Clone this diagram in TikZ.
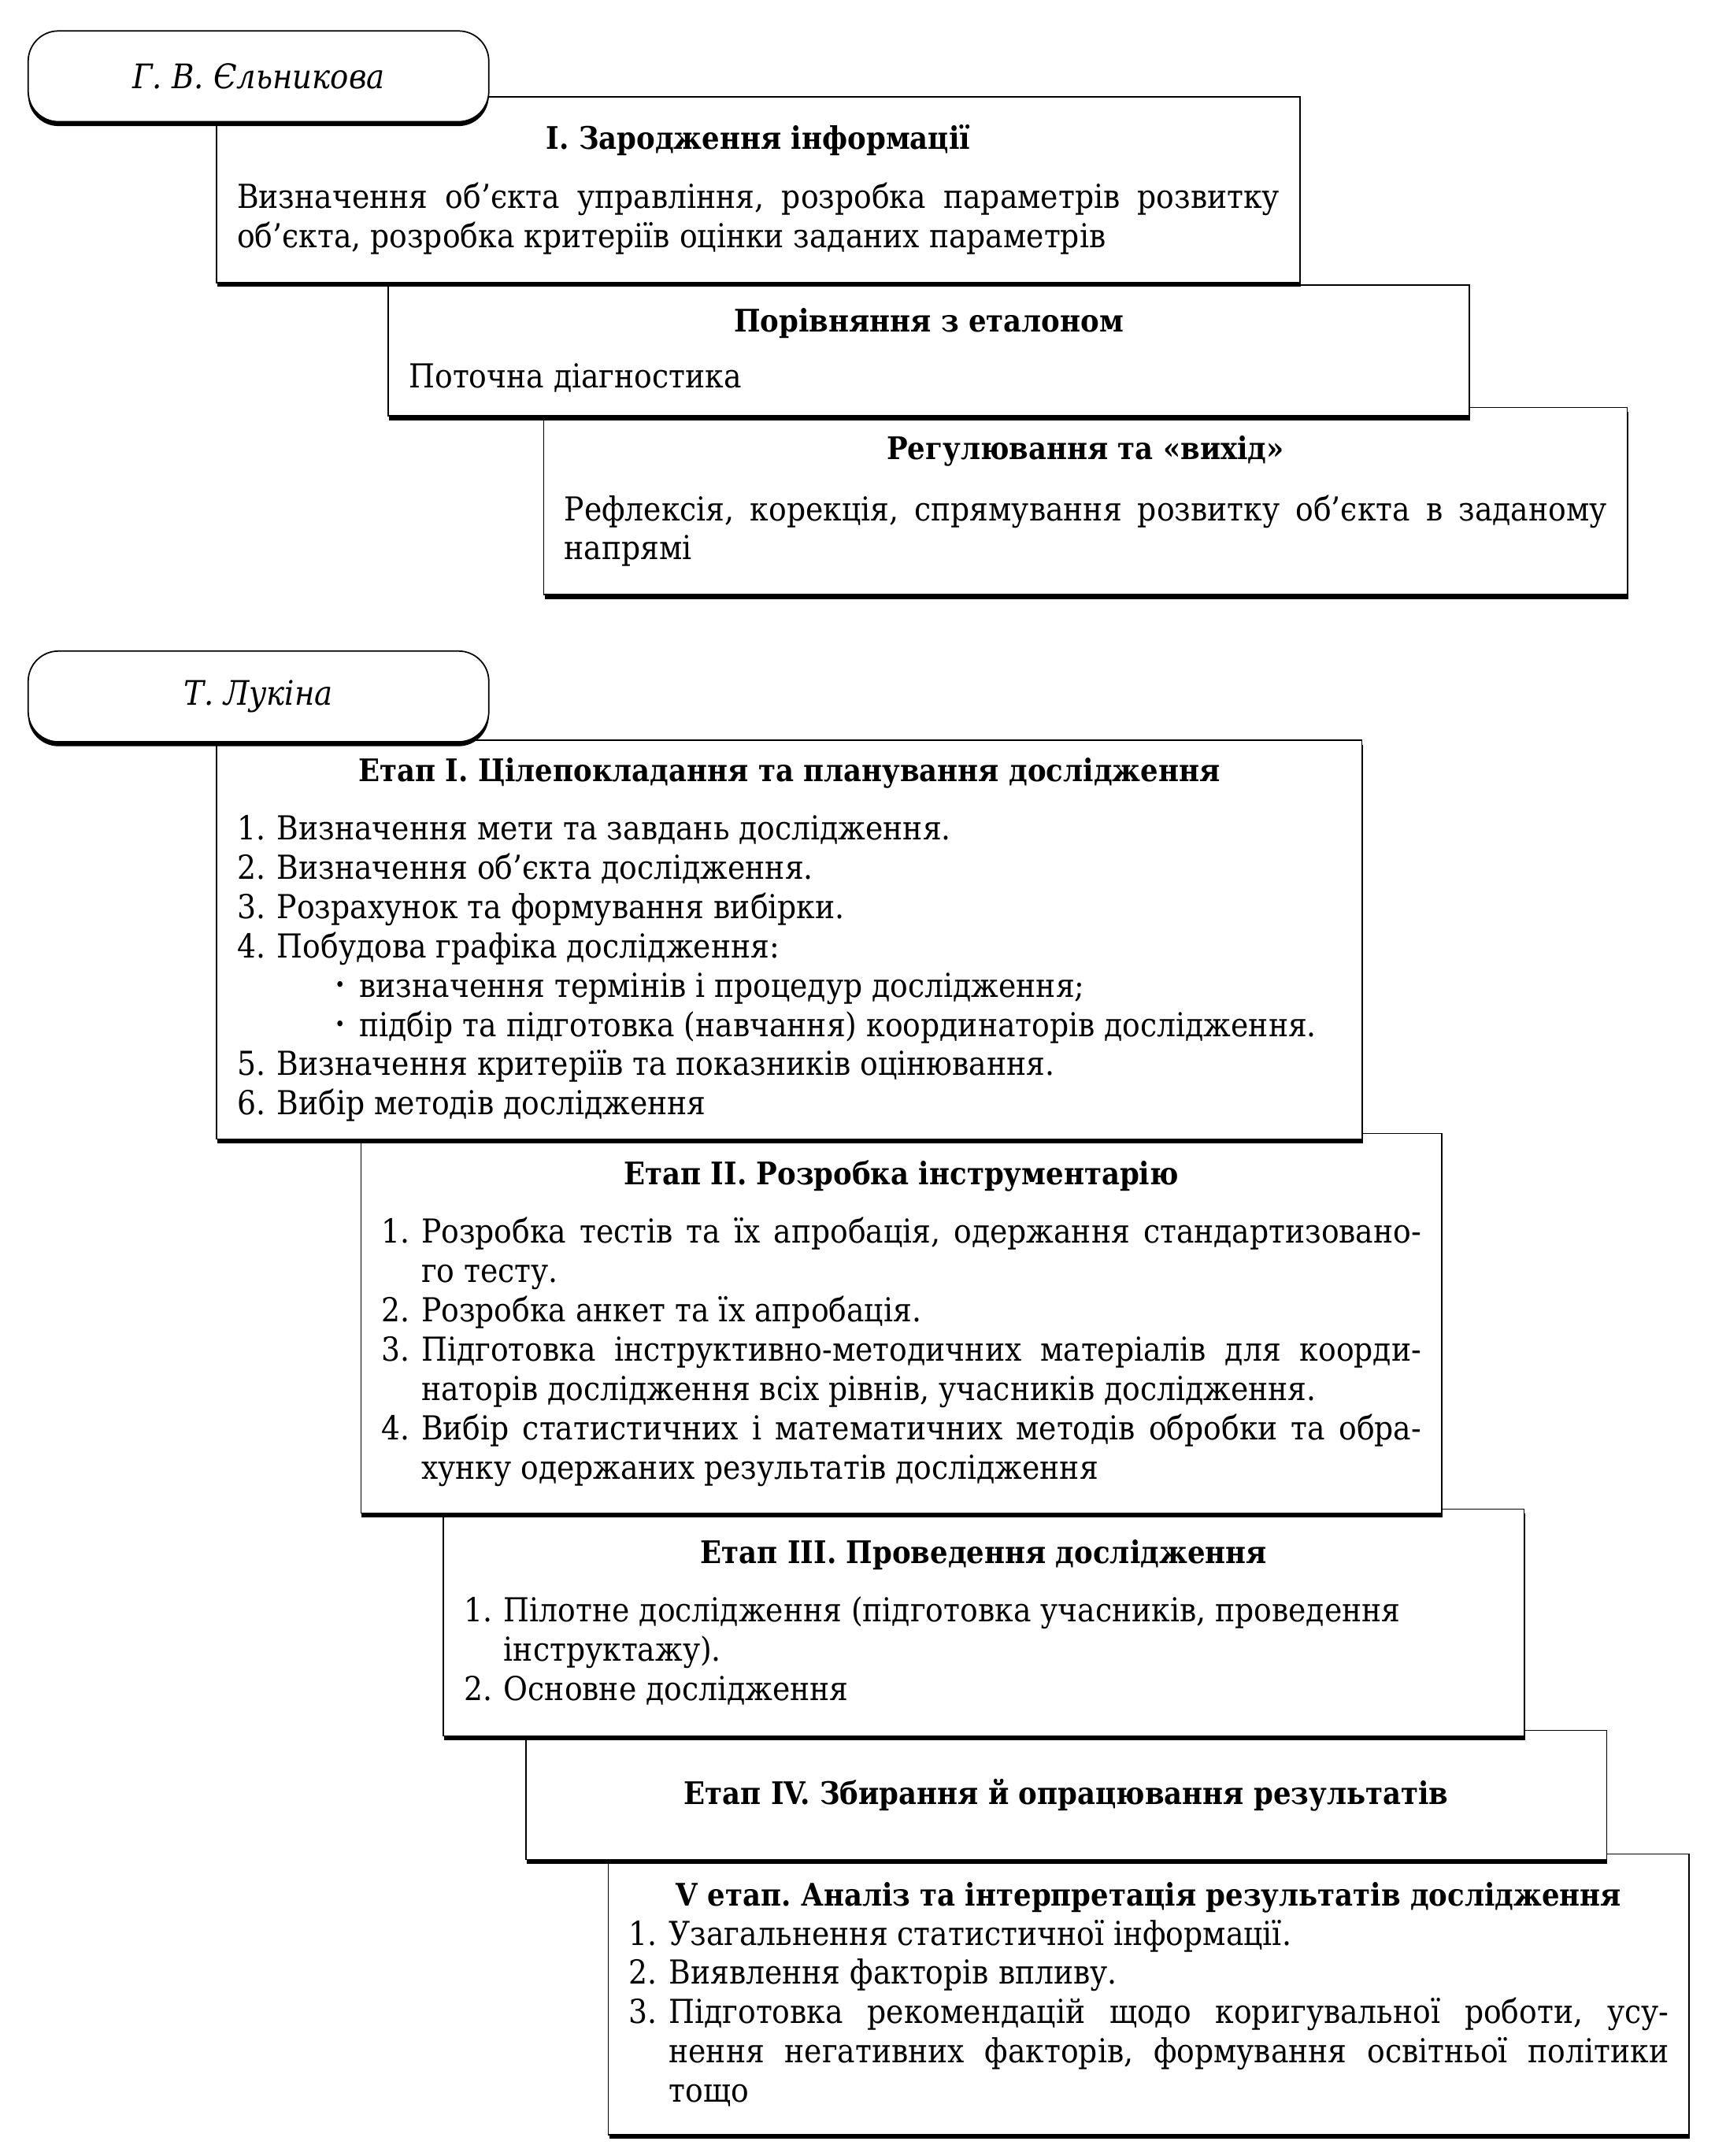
\documentclass[tikz,border=0pt]{standalone}
\usepackage{fontspec}
\setmainfont{DejaVu Serif Condensed}
\usetikzlibrary{shadows}
\frenchspacing

\newlength{\numw}
\setlength{\numw}{14.5pt}
\newcommand{\numitem}[2]{\par\noindent\hangindent=\numw\hangafter=1\makebox[\numw][l]{#1}#2\par}
\newcommand{\bulitem}[1]{\par\noindent\hspace*{35.5pt}\makebox[9pt][l]{\raisebox{0.3ex}{\scalebox{0.6}{\textbullet}}}#1\par}
\newcommand{\stagetitle}[1]{{\centering\fontsize{11.3}{14.25}\selectfont\bfseries #1\par}}

\begin{document}
\begin{tikzpicture}[x=0.5pt, y=-0.5pt,
    font=\fontsize{12}{14.28}\selectfont,
    namebox/.style={draw, fill=white, rounded corners=11pt, line width=0.5pt,
                    minimum width=167.5pt, minimum height=33pt, anchor=north west,
                    font=\fontsize{12.3}{14}\selectfont\itshape,
                    drop shadow={shadow xshift=0pt, shadow yshift=-1.6pt, opacity=1, fill=black}},
    stagebox/.style={draw, fill=white, line width=0.45pt, anchor=north west,
                     inner xsep=7.5pt, inner ysep=0pt, align=justify,
                     drop shadow={shadow xshift=0.3pt, shadow yshift=-1.6pt, opacity=1, fill=black}}
  ]
    \useasboundingbox (0,0) rectangle (1247,1568);

    \node[stagebox, text width=379pt, minimum height=68pt] (regul) at (395,296)
      {\stagetitle{Регулювання та «вихід»}\vspace{8pt}%
       Рефлексія, корекція, спрямування розвитку об’єкта в заданому\linebreak напрямі};
    \node[stagebox, text width=378pt, minimum height=47.5pt] (porivn) at (282,207)
      {\stagetitle{Порівняння з еталоном}\vspace{6pt}%
       Поточна діагностика};
    \node[stagebox, text width=379pt, minimum height=67.5pt] (zarod) at (157,70)
      {\stagetitle{І. Зародження інформації}\vspace{7pt}%
       Визначення об’єкта управління, розробка параметрів розвитку\linebreak
       об’єкта, розробка критеріїв оцінки заданих параметрів};
    \node[namebox] (yelnyk) at (20,22) {Г. В. Єльникова};

    \node[stagebox, text width=378pt, minimum height=102pt] (etap5) at (442,1348)
      {\stagetitle{V етап. Аналіз та інтерпретація результатів дослідження}%
       \numitem{1.}{Узагальнення статистичної інформації.}
       \numitem{2.}{Виявлення факторів впливу.}
       \numitem{3.}{Підготовка рекомендацій щодо коригувальної роботи, усу-\linebreak
         нення негативних факторів, формування освітньої політики\linebreak тощо}};
    \node[stagebox, text width=378pt, minimum height=47pt] (etap4) at (382,1258)
      {\stagetitle{Етап IV. Збирання й опрацювання результатів}};
    \node[stagebox, text width=378pt, minimum height=82.5pt] (etap3) at (322,1097)
      {\stagetitle{Етап III. Проведення дослідження}\vspace{7pt}%
       \numitem{1.}{Пілотне дослідження (підготовка учасників, проведення\newline
         інструктажу).}
       \numitem{2.}{Основне дослідження}};
    \node[stagebox, text width=378pt, minimum height=138pt] (etap2) at (262,824)
      {\stagetitle{Етап II. Розробка інструментарію}\vspace{7pt}%
       \numitem{1.}{Розробка тестів та їх апробація, одержання стандартизовано-\linebreak
         го тесту.}
       \numitem{2.}{Розробка анкет та їх апробація.}
       \numitem{3.}{Підготовка інструктивно-методичних матеріалів для коорди-\linebreak
         наторів дослідження всіх рівнів, учасників дослідження.}
       \numitem{4.}{Вибір статистичних і математичних методів обробки та обра-\linebreak
         хунку одержаних результатів дослідження}};
    \node[stagebox, text width=401.5pt, minimum height=145pt] (etap1) at (157,538)
      {\stagetitle{Етап I. Цілепокладання та планування дослідження}\vspace{7pt}%
       \numitem{1.}{Визначення мети та завдань дослідження.}
       \numitem{2.}{Визначення об’єкта дослідження.}
       \numitem{3.}{Розрахунок та формування вибірки.}
       \numitem{4.}{Побудова графіка дослідження:}
       \bulitem{визначення термінів і процедур дослідження;}
       \bulitem{підбір та підготовка (навчання) координаторів дослідження.}
       \numitem{5.}{Визначення критеріїв та показників оцінювання.}
       \numitem{6.}{Вибір методів дослідження}};
    \node[namebox] (lukina) at (20,473) {Т. Лукіна};
  \end{tikzpicture}
\end{document}
